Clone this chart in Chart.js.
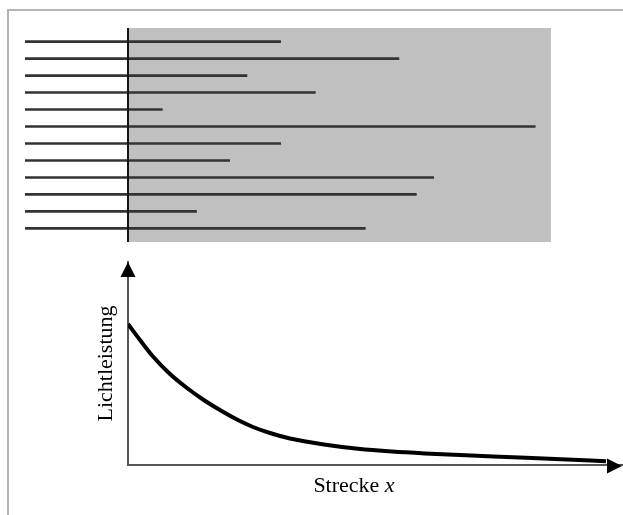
<!DOCTYPE html>
<html><head><meta charset="utf-8">
<script src="https://cdn.jsdelivr.net/npm/chart.js@4.4.0/dist/chart.umd.min.js"></script>
<style>
html,body{margin:0;padding:0;background:#fff;}
#wrap{position:relative;width:623px;height:515px;overflow:hidden;background:#fff;}
#frame{position:absolute;left:7px;top:9px;width:700px;height:600px;border:2px solid #b5b5b5;box-sizing:border-box;}
#top{position:absolute;left:0;top:0;}
#bot{position:absolute;left:0;top:250px;}
</style></head><body>
<div id="wrap">
  <div id="frame"></div>
  <canvas id="top" width="623" height="250"></canvas>
  <canvas id="bot" width="623" height="265"></canvas>
</div>
<script>
// ---- Data ----
// Top panel: 12 fibres/rays, start position and end position (0..100 units along the strip)
const fiberIds   = [1, 2, 3, 4, 5, 6, 7, 8, 9, 10, 11, 12];
const fiberStart = [0, 0, 0, 0, 0, 0, 0, 0, 0, 0, 0, 0];
const fiberEnds  = [48.6, 71.1, 42.2, 55.2, 26.1, 97.0, 48.6, 38.9, 77.7, 74.4, 32.6, 64.7];
const entryPos   = 19.6;   // where the shaded medium begins
const stripMax   = 100;

// Bottom panel: light power along distance x
const distX  = [0, 2.43, 5.06, 8.5, 11.94, 15.18, 18.62, 22.06, 25.3, 28.74, 32.79, 39.68, 46.56, 53.44, 60.12, 73.89, 87.65, 96.76];
const powerY = [69.46, 61.58, 53.45, 44.83, 37.93, 32.27, 27.09, 22.41, 18.72, 15.76, 13.05, 10.1, 7.98, 6.6, 5.67, 4.19, 2.81, 1.82];
const xAxisLabel = 'Strecke ';
const xAxisVar   = 'x';
const yAxisLabel = 'Lichtleistung';

// ---- Top chart ----
const stripPlugin = {
  id: 'strip',
  beforeDatasetsDraw(chart) {
    const {ctx, chartArea: a, scales: {x}} = chart;
    const x0 = x.getPixelForValue(entryPos);
    ctx.save();
    ctx.fillStyle = '#c0c0c0';
    ctx.fillRect(x0, a.top, a.right - x0, a.bottom - a.top);
    ctx.restore();
  },
  afterDatasetsDraw(chart) {
    const {ctx, chartArea: a, scales: {x}} = chart;
    const x0 = Math.round(x.getPixelForValue(entryPos));
    ctx.save();
    ctx.strokeStyle = '#151515';
    ctx.lineWidth = 2;
    ctx.beginPath();
    ctx.moveTo(x0, a.top);
    ctx.lineTo(x0, a.bottom);
    ctx.stroke();
    ctx.restore();
  }
};

new Chart(document.getElementById('top'), {
  type: 'bar',
  data: {
    datasets: [{
      data: fiberIds.map((id, i) => ({ y: id, x: [fiberStart[i], fiberEnds[i]] })),
      backgroundColor: '#333333',
      borderWidth: 0,
      barThickness: 2
    }]
  },
  options: {
    indexAxis: 'y',
    responsive: false,
    animation: false,
    events: [],
    layout: { padding: { left: 25, right: 72, top: 28, bottom: 8 } },
    plugins: { legend: { display: false }, tooltip: { enabled: false } },
    scales: {
      x: { type: 'linear', display: false, min: 0, max: stripMax, offset: false },
      y: { type: 'linear', display: false, min: 0.2, max: 12.8, reverse: true, offset: false }
    }
  },
  plugins: [stripPlugin]
});

// ---- Bottom chart ----
const arrowPlugin = {
  id: 'arrows',
  afterDraw(chart) {
    const {ctx, chartArea: a} = chart;
    ctx.save();
    ctx.fillStyle = '#000';
    // y arrow
    ctx.beginPath();
    ctx.moveTo(a.left, a.top);
    ctx.lineTo(a.left - 7.5, a.top + 15);
    ctx.lineTo(a.left + 7.5, a.top + 15);
    ctx.closePath();
    ctx.fill();
    // x arrow
    ctx.beginPath();
    ctx.moveTo(a.right, a.bottom + 1);
    ctx.lineTo(a.right - 15, a.bottom + 1 - 7.5);
    ctx.lineTo(a.right - 15, a.bottom + 1 + 7.5);
    ctx.closePath();
    ctx.fill();
    // axis titles
    ctx.fillStyle = '#000';
    ctx.textBaseline = 'alphabetic';
    const f1 = '22px "Liberation Serif", "Times New Roman", serif';
    const f2 = 'italic 22px "Liberation Serif", "Times New Roman", serif';
    ctx.font = f1;
    const w1 = ctx.measureText(xAxisLabel).width;
    ctx.font = f2;
    const w2 = ctx.measureText(xAxisVar).width;
    const cx = a.left + 226;
    const bx = a.bottom + 27;
    ctx.font = f1;
    ctx.textAlign = 'left';
    ctx.fillText(xAxisLabel, cx - (w1 + w2) / 2, bx);
    ctx.font = f2;
    ctx.fillText(xAxisVar, cx - (w1 + w2) / 2 + w1, bx);
    // y title
    ctx.save();
    ctx.translate(a.left - 16, (a.top + a.bottom) / 2);
    ctx.rotate(-Math.PI / 2);
    ctx.font = f1;
    ctx.textAlign = 'center';
    ctx.fillText(yAxisLabel, 0, 0);
    ctx.restore();
    ctx.restore();
  }
};

new Chart(document.getElementById('bot'), {
  type: 'line',
  data: {
    datasets: [{
      data: distX.map((v, i) => ({ x: v, y: powerY[i] })),
      borderColor: '#000',
      borderWidth: 4,
      pointRadius: 0,
      fill: false,
      cubicInterpolationMode: 'monotone'
    }]
  },
  options: {
    responsive: false,
    animation: false,
    events: [],
    layout: { padding: { left: 128, right: 1, top: 12, bottom: 50 } },
    plugins: { legend: { display: false }, tooltip: { enabled: false } },
    scales: {
      x: {
        type: 'linear', min: 0, max: 100,
        grid: { display: false, drawTicks: false },
        ticks: { display: false },
        border: { display: true, color: '#555', width: 2 }
      },
      y: {
        type: 'linear', min: 0, max: 100,
        grid: { display: false, drawTicks: false },
        ticks: { display: false },
        border: { display: true, color: '#555', width: 2 }
      }
    }
  },
  plugins: [arrowPlugin]
});
</script>
</body></html>
